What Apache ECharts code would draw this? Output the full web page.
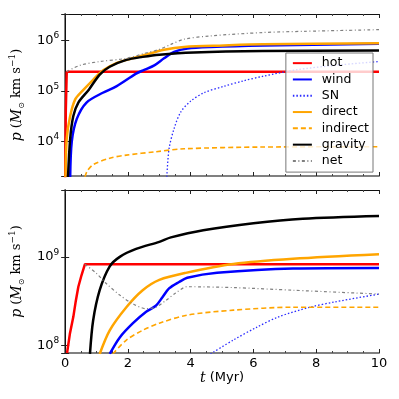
<!DOCTYPE html>
<html>
<head>
<meta charset="utf-8">
<script src="https://cdn.jsdelivr.net/npm/echarts@6/dist/echarts.min.js"></script>
<style>
  html, body { margin: 0; padding: 0; background: #fff; }
  #chart { width: 399px; height: 399px; }
</style>
</head>
<body>
<div id="chart"></div>
<script>
// series names, shared by both panels
const names = ['hot', 'wind', 'SN', 'direct', 'indirect', 'gravity', 'net']

// top panel (t in Myr, p in Msun km/s)
const hotT1 = [0, 0.02, 0.05, 10]
const hotP1 = [1500, 40000, 240000, 240000]
const windT1 = [0.16, 0.21, 0.37, 0.68, 1.2, 1.63, 2.26, 2.52, 2.84, 3.15, 3.47, 3.89, 4.63, 6.3, 10]
const windP1 = [2000, 10000, 28000, 59000, 92000, 123000, 220000, 260000, 320000, 440000, 590000, 690000, 740000, 790000, 850000]
const snT1 = [3.24, 3.31, 3.47, 3.68, 4.0, 4.42, 5.05, 5.68, 6.31, 7.36, 8.6, 10]
const snP1 = [2000, 7200, 18000, 38000, 63000, 92000, 123000, 158000, 195000, 260000, 320000, 380000]
const dirT1 = [0.01, 0.05, 0.16, 0.32, 0.55, 0.89, 1.21, 1.63, 2.15, 2.52, 3.15, 3.79, 5.05, 6.3, 10]
const dirP1 = [2000, 11500, 32000, 68000, 100000, 166000, 255000, 355000, 440000, 510000, 650000, 740000, 790000, 830000, 870000]
const indT1 = [0.63, 0.7, 0.89, 1.42, 1.95, 2.89, 3.79, 6.3, 10]
const indP1 = [2000, 2600, 3500, 4700, 5400, 6300, 7200, 7800, 7900]
const gravT1 = [0.09, 0.16, 0.26, 0.42, 0.76, 1.1, 1.42, 1.95, 2.47, 3.0, 4.1, 6.3, 10]
const gravP1 = [2000, 11500, 32000, 59000, 107000, 210000, 300000, 410000, 470000, 520000, 575000, 615000, 630000]
const netT1 = [0.05, 0.47, 1.1, 1.95, 2.52, 3.0, 3.37, 3.79, 4.63, 6.3, 7.6, 10]
const netP1 = [240000, 320000, 380000, 440000, 550000, 660000, 830000, 1050000, 1220000, 1420000, 1500000, 1620000]

// bottom panel
const hotT2 = [0.06, 0.15, 0.26, 0.34, 0.42, 0.52, 0.63, 10]
const hotP2 = [8.2e7, 1.35e8, 2.1e8, 3.2e8, 4.6e8, 6.2e8, 8.26e8, 8.26e8]
const windT2 = [1.42, 1.74, 2.16, 2.58, 2.89, 3.1, 3.31, 3.63, 3.89, 4.84, 7.26, 10]
const windP2 = [8e7, 1.23e8, 1.78e8, 2.4e8, 2.8e8, 3.5e8, 4.4e8, 5.2e8, 5.8e8, 6.6e8, 7.4e8, 7.5e8]
const snT2 = [4.63, 5.36, 6.1, 6.8, 7.8, 8.6, 10]
const snP2 = [8e7, 1.15e8, 1.6e8, 2.1e8, 2.7e8, 3.1e8, 3.8e8]
const dirT2 = [1.1, 1.42, 1.95, 2.47, 3.0, 3.84, 5.36, 7.26, 10]
const dirP2 = [8e7, 1.48e8, 2.7e8, 4.2e8, 5.5e8, 6.6e8, 8.3e8, 9.5e8, 1.07e9]
const indT2 = [1.52, 1.95, 2.47, 3.0, 3.89, 5.36, 7.26, 10]
const indP2 = [8e7, 1.15e8, 1.48e8, 1.78e8, 2.2e8, 2.5e8, 2.7e8, 2.7e8]
const gravT2 = [0.79, 0.89, 1.1, 1.42, 1.74, 2.26, 3.0, 3.37, 4.4, 6.0, 7.57, 10]
const gravP2 = [8e7, 1.9e8, 4.2e8, 7.8e8, 1.0e9, 1.23e9, 1.48e9, 1.66e9, 2.0e9, 2.4e9, 2.7e9, 2.9e9]
const netT2 = [0.63, 1.0, 1.31, 1.74, 2.16, 2.58, 2.89, 3.2, 3.52, 3.89, 5.36, 7.26, 10]
const netP2 = [8.26e8, 6.5e8, 5.0e8, 3.7e8, 2.95e8, 2.6e8, 2.7e8, 3.2e8, 3.9e8, 4.6e8, 4.5e8, 4.2e8, 3.8e8]

// axis ranges
const xTicks = [0, 2, 4, 6, 8, 10]
const yRange1 = [2090, 3.3e6]
const yRange2 = [8.2e7, 5.7e9]

const chart = echarts.init(document.getElementById('chart'))

const pair = (ts, ps) => ts.map((t, i) => [t, ps[i]])

const styles = {
  hot: { color: '#ff0000', width: 2.5, type: 'solid' },
  wind: { color: '#0000ff', width: 2.5, type: 'solid' },
  SN: { color: '#2b2bff', width: 1.3, type: [1.5, 2] },
  direct: { color: '#ffa500', width: 2.5, type: 'solid' },
  indirect: { color: '#ffa500', width: 1.6, type: [5, 3] },
  gravity: { color: '#000000', width: 2.5, type: 'solid' },
  net: { color: '#808080', width: 1.2, type: [3, 2.5, 1, 2.5] }
}

const makeSeries = (name, data, panel, smooth) => ({
  name: name,
  type: 'line',
  xAxisIndex: panel * 2,
  yAxisIndex: panel * 2,
  data: data,
  symbol: 'none',
  smooth: smooth ? 0.3 : false,
  color: styles[name].color,
  lineStyle: styles[name],
  clip: true
})

const expLabel = v => {
  const l = Math.log10(v)
  const e = Math.round(l)
  if (Math.abs(l - e) > 1e-6) return ''
  return '{b|10}{s|' + e + '}'
}

const tickRich = {
  b: { fontSize: 13, fontFamily: 'DejaVu Sans', color: '#000', lineHeight: 18 },
  s: { fontSize: 9, fontFamily: 'DejaVu Sans', color: '#000', verticalAlign: 'top', lineHeight: 10 }
}

const xAxisBase = (grid, pos, labels) => ({
  type: 'value',
  gridIndex: grid,
  position: pos,
  min: 0,
  max: 10,
  interval: 2,
  splitLine: { show: false },
  axisLine: { lineStyle: { color: pos === 'bottom' ? '#808080' : '#111', width: pos === 'bottom' ? 2 : 1 } },
  axisTick: { show: true, inside: true, length: 4, lineStyle: { color: '#222' } },
  minorTick: { show: true, splitNumber: 4, length: 2, lineStyle: { color: '#444' } },
  axisLabel: {
    show: labels,
    margin: 4,
    fontSize: 13,
    fontFamily: 'DejaVu Sans',
    color: '#000',
    formatter: v => (xTicks.includes(v) ? String(v) : '')
  }
})

const yAxisBase = (grid, pos, range, labels) => ({
  type: 'log',
  logBase: 10,
  gridIndex: grid,
  position: pos,
  min: range[0],
  max: range[1],
  splitLine: { show: false },
  axisLine: { lineStyle: { color: pos === 'left' ? '#808080' : '#111', width: pos === 'left' ? 2 : 1 } },
  axisTick: { show: true, inside: true, length: 4, lineStyle: { color: '#222' } },
  axisLabel: { show: labels, margin: 6, formatter: expLabel, rich: tickRich }
})

const yName = {
  name: '{i|p} ({i|M}{o|⊙} km s{u|−1})',
  nameLocation: 'middle',
  nameGap: 36,
  nameTextStyle: {
    fontFamily: 'DejaVu Serif',
    fontSize: 13,
    color: '#000',
    lineHeight: 18,
    rich: {
      i: { fontFamily: 'DejaVu Serif', fontStyle: 'italic', fontSize: 14, lineHeight: 18, color: '#000' },
      o: { fontFamily: 'DejaVu Sans', fontSize: 8, verticalAlign: 'bottom', lineHeight: 12, color: '#000' },
      u: { fontFamily: 'DejaVu Serif', fontSize: 9, verticalAlign: 'top', lineHeight: 10, color: '#000' }
    }
  }
}

const yLeft1 = Object.assign(yAxisBase(0, 'left', yRange1, true), yName)
const yLeft2 = Object.assign(yAxisBase(1, 'left', yRange2, true), yName)

const xBottom2 = Object.assign(xAxisBase(1, 'bottom', true), {
  name: '{i|t} (Myr)',
  nameLocation: 'middle',
  nameGap: 18,
  nameTextStyle: {
    fontFamily: 'DejaVu Sans',
    fontSize: 13,
    color: '#000',
    rich: { i: { fontFamily: 'DejaVu Serif', fontStyle: 'italic', fontSize: 14, color: '#000' } }
  }
})

const topRows = [
  ['hot', pair(hotT1, hotP1), false],
  ['wind', pair(windT1, windP1), true],
  ['SN', pair(snT1, snP1), true],
  ['direct', pair(dirT1, dirP1), true],
  ['indirect', pair(indT1, indP1), true],
  ['gravity', pair(gravT1, gravP1), true],
  ['net', pair(netT1, netP1), true]
]
const bottomRows = [
  ['hot', pair(hotT2, hotP2), false],
  ['wind', pair(windT2, windP2), true],
  ['SN', pair(snT2, snP2), true],
  ['direct', pair(dirT2, dirP2), true],
  ['indirect', pair(indT2, indP2), true],
  ['gravity', pair(gravT2, gravP2), true],
  ['net', pair(netT2, netP2), true]
]

const option = {
  animation: false,
  backgroundColor: '#fff',
  grid: [
    { left: 60, top: 14, width: 319, height: 162 },
    { left: 60, top: 190, width: 319, height: 163 }
  ],
  legend: {
    data: names,
    orient: 'vertical',
    right: 26,
    top: 53,
    backgroundColor: 'rgba(255,255,255,0.8)',
    borderColor: '#777',
    borderWidth: 1,
    borderRadius: 0,
    padding: [3, 4, 4, 6],
    itemWidth: 19,
    itemHeight: 10,
    itemGap: 2,
    itemStyle: { color: 'rgba(0,0,0,0)', borderWidth: 0, opacity: 0 },
    textStyle: { fontSize: 12.5, fontFamily: 'DejaVu Sans', color: '#000', lineHeight: 14.3, padding: [0, 0, 0, 5] }
  },
  xAxis: [
    xAxisBase(0, 'bottom', false),
    xAxisBase(0, 'top', false),
    xBottom2,
    xAxisBase(1, 'top', false)
  ],
  yAxis: [
    yLeft1,
    yAxisBase(0, 'right', yRange1, false),
    yLeft2,
    yAxisBase(1, 'right', yRange2, false)
  ],
  series: [
    ...topRows.map(s => makeSeries(s[0], s[1], 0, s[2])),
    ...bottomRows.map(s => makeSeries(s[0], s[1], 1, s[2]))
  ]
}

chart.setOption(option)
</script>
</body>
</html>
